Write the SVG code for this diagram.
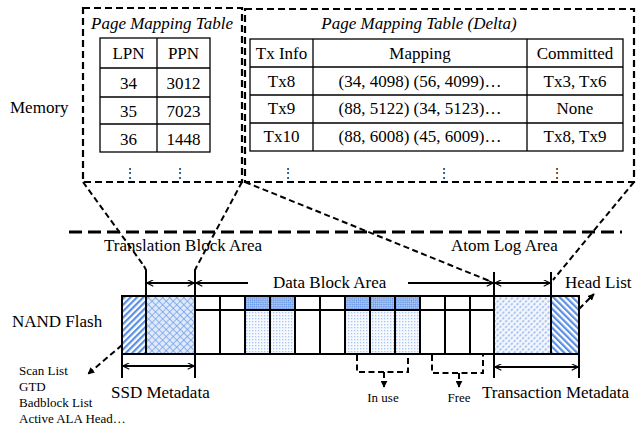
<svg xmlns="http://www.w3.org/2000/svg" width="636" height="431" viewBox="0 0 636 431">
<style>
text{font-family:"Liberation Serif","Times New Roman",serif;font-size:17px;fill:#000}
.it{font-style:italic}
.c{text-anchor:middle}
.sm{font-size:13px}
.dot{font-family:"DejaVu Serif","Liberation Serif",serif;font-size:12px;text-anchor:middle}
.tb{fill:none;stroke:#000;stroke-width:1.3}
.dbox{fill:none;stroke:#000;stroke-width:2.2;stroke-dasharray:7 4}
.dl{fill:none;stroke:#000;stroke-width:2;stroke-dasharray:6 3.5}
.sl{fill:none;stroke:#000;stroke-width:2}
.ar{fill:none;stroke:#000;stroke-width:2}
.blk{stroke:#000;stroke-width:2}
</style>
<defs>
<marker id="ah" viewBox="0 0 10 10" refX="10" refY="5" markerWidth="7" markerHeight="7" markerUnits="userSpaceOnUse" orient="auto-start-reverse">
<path d="M1,0.5 L10,5 L1,9.5" fill="none" stroke="#000" stroke-width="1.6"/>
</marker>
<marker id="fh" viewBox="0 0 10 10" refX="9" refY="5" markerWidth="7" markerHeight="7" markerUnits="userSpaceOnUse" orient="auto">
<path d="M0,0 L10,5 L0,10 Z" fill="#000"/>
</marker>
<pattern id="pFwd" width="4.5" height="4.5" patternUnits="userSpaceOnUse" patternTransform="rotate(45)">
<rect width="4.5" height="4.5" fill="#fff"/><rect width="2.2" height="4.5" fill="#5b8fe2"/>
</pattern>
<pattern id="pBack" width="4.5" height="4.5" patternUnits="userSpaceOnUse" patternTransform="rotate(-45)">
<rect width="4.5" height="4.5" fill="#fff"/><rect width="2.2" height="4.5" fill="#5b8fe2"/>
</pattern>
<pattern id="pCross" width="5" height="5" patternUnits="userSpaceOnUse" patternTransform="rotate(45)">
<rect width="5" height="5" fill="#dfe9fa"/><path d="M0,0 H5 M0,0 V5" stroke="#6d9de6" stroke-width="1.4"/>
</pattern>
<pattern id="pAtom" width="4" height="4" patternUnits="userSpaceOnUse" patternTransform="rotate(45)">
<rect width="4" height="4" fill="#f4f8fe"/><path d="M1,0 V2.6" stroke="#7ea7ea" stroke-width="1.2"/>
</pattern>
<pattern id="pDense" width="3" height="3" patternUnits="userSpaceOnUse" patternTransform="rotate(45)">
<rect width="3" height="3" fill="#c3d6f6"/><rect width="1.5" height="1.5" fill="#5b8fe2"/><rect x="1.5" y="1.5" width="1.5" height="1.5" fill="#5b8fe2"/>
</pattern>
<pattern id="pDot" width="3" height="3" patternUnits="userSpaceOnUse">
<rect width="3" height="3" fill="#f6f9fe"/><rect width="1.3" height="1.3" fill="#aac6f2"/>
</pattern>
</defs>

<g id="memory-label"><text x="10" y="113">Memory</text></g>

<g id="page-mapping-table">
<rect class="dbox" x="83" y="8" width="159" height="174"/>
<text class="it c" x="162" y="29">Page Mapping Table</text>
<rect class="tb" x="100" y="38" width="110" height="114"/>
<path class="tb" d="M157,38 V152 M100,68 H210 M100,97 H210 M100,124 H210"/>
<text class="c" x="128.5" y="59">LPN</text><text class="c" x="183.5" y="59">PPN</text>
<text class="c" x="128.5" y="89">34</text><text class="c" x="183.5" y="89">3012</text>
<text class="c" x="128.5" y="117">35</text><text class="c" x="183.5" y="117">7023</text>
<text class="c" x="128.5" y="145">36</text><text class="c" x="183.5" y="145">1448</text>
<text class="dot" x="130" y="177">⋮</text><text class="dot" x="180" y="177">⋮</text>
</g>

<g id="delta-table">
<rect class="dbox" x="245" y="9" width="389" height="173"/>
<text class="it c" x="419" y="29">Page Mapping Table (Delta)</text>
<rect class="tb" x="250" y="39" width="373" height="112"/>
<path class="tb" d="M313,39 V151 M527,39 V151 M250,67 H623 M250,95 H623 M250,123 H623"/>
<text class="c" x="281.5" y="59">Tx Info</text><text class="c" x="420" y="59">Mapping</text><text class="c" x="575" y="59">Committed</text>
<text class="c" x="281.5" y="87">Tx8</text><text class="c" x="420" y="87">(34, 4098) (56, 4099)…</text><text class="c" x="575" y="87">Tx3, Tx6</text>
<text class="c" x="281.5" y="114">Tx9</text><text class="c" x="420" y="114">(88, 5122) (34, 5123)…</text><text class="c" x="575" y="114">None</text>
<text class="c" x="281.5" y="142">Tx10</text><text class="c" x="420" y="142">(88, 6008) (45, 6009)…</text><text class="c" x="575" y="142">Tx8, Tx9</text>
<text class="dot" x="288" y="177">⋮</text><text class="dot" x="444" y="177">⋮</text><text class="dot" x="557" y="177">⋮</text>
</g>

<g id="separator">
<line x1="69" y1="232" x2="622" y2="232" stroke="#000" stroke-width="3" stroke-dasharray="13 6"/>
</g>

<g id="nand-label"><text x="12" y="327">NAND Flash</text></g>

<g id="ssd-metadata-block"><rect class="blk" x="122" y="296" width="24" height="58" fill="url(#pFwd)"/></g>
<g id="translation-block"><rect class="blk" x="146" y="296" width="49" height="58" fill="url(#pCross)"/></g>
<g id="data-blocks">
<rect x="245" y="296" width="50" height="14" fill="url(#pDense)"/>
<rect x="245" y="310" width="50" height="44" fill="url(#pDot)"/>
<rect x="345" y="296" width="75" height="14" fill="url(#pDense)"/>
<rect x="345" y="310" width="75" height="44" fill="url(#pDot)"/>
<rect x="195" y="296" width="299" height="58" fill="none" stroke="#000" stroke-width="2"/>
<path class="sl" d="M195,310 H494 M220,296 V354 M245,296 V354 M270,296 V354 M295,296 V354 M320,296 V354 M345,296 V354 M370,296 V354 M395,296 V354 M420,296 V354 M445,296 V354 M470,296 V354"/>
</g>
<g id="atom-log-block"><rect class="blk" x="494" y="296" width="57" height="58" fill="url(#pAtom)"/></g>
<g id="head-list-block"><rect class="blk" x="551" y="296" width="28" height="58" fill="url(#pBack)"/></g>

<g id="labels">
<text x="104" y="251">Translation Block Area</text>
<text x="451" y="251">Atom Log Area</text>
<text x="273" y="288">Data Block Area</text>
<text x="565" y="288">Head List</text>
<text x="111" y="398">SSD Metadata</text>
<text x="482" y="398">Transaction Metadata</text>
<text class="sm" x="19" y="375">Scan List</text>
<text class="sm" x="19" y="391">GTD</text>
<text class="sm" x="19" y="407">Badblock List</text>
<text class="sm" x="19" y="423">Active ALA Head…</text>
<text class="sm c" x="383" y="402">In use</text>
<text class="sm c" x="459" y="402">Free</text>
</g>

<g id="connectors">
<path class="dl" d="M83,182 L144,266"/>
<path class="dl" d="M242,182 L197,266"/>
<path class="dl" d="M245,182 L492,282"/>
<path class="dl" d="M634,182 L553,280"/>
<path class="sl" d="M144,266 L146,270 V296 M197,266 L195,270 V378 M122,296 V378 M494,272 V378 M551,272 V296 M579,354 V378"/>
<line class="ar" x1="147" y1="283" x2="194" y2="283" marker-start="url(#ah)" marker-end="url(#ah)"/>
<line class="ar" x1="248" y1="283" x2="196" y2="283" marker-end="url(#ah)"/>
<line class="ar" x1="408" y1="283" x2="493" y2="283" marker-end="url(#ah)"/>
<line class="ar" x1="495" y1="283" x2="550" y2="283" marker-start="url(#ah)" marker-end="url(#ah)"/>
<line class="ar" x1="123" y1="366" x2="194" y2="366" marker-start="url(#ah)" marker-end="url(#ah)"/>
<line class="ar" x1="495" y1="367" x2="578" y2="367" marker-start="url(#ah)" marker-end="url(#ah)"/>
<path class="dl" stroke-dasharray="4 3" d="M122,345 L88,374" marker-end="url(#fh)"/>
<path class="dl" stroke-dasharray="4 3" d="M579,309 L594,294" marker-end="url(#fh)"/>
<path class="dl" stroke-dasharray="5 3" d="M357,355 V372 H408 V355"/>
<path class="dl" stroke-dasharray="4 3" d="M384,372 V387" marker-end="url(#fh)"/>
<path class="dl" stroke-dasharray="5 3" d="M432,355 V373 H483 V355"/>
<path class="dl" stroke-dasharray="4 3" d="M459,373 V387" marker-end="url(#fh)"/>
</g>
</svg>
